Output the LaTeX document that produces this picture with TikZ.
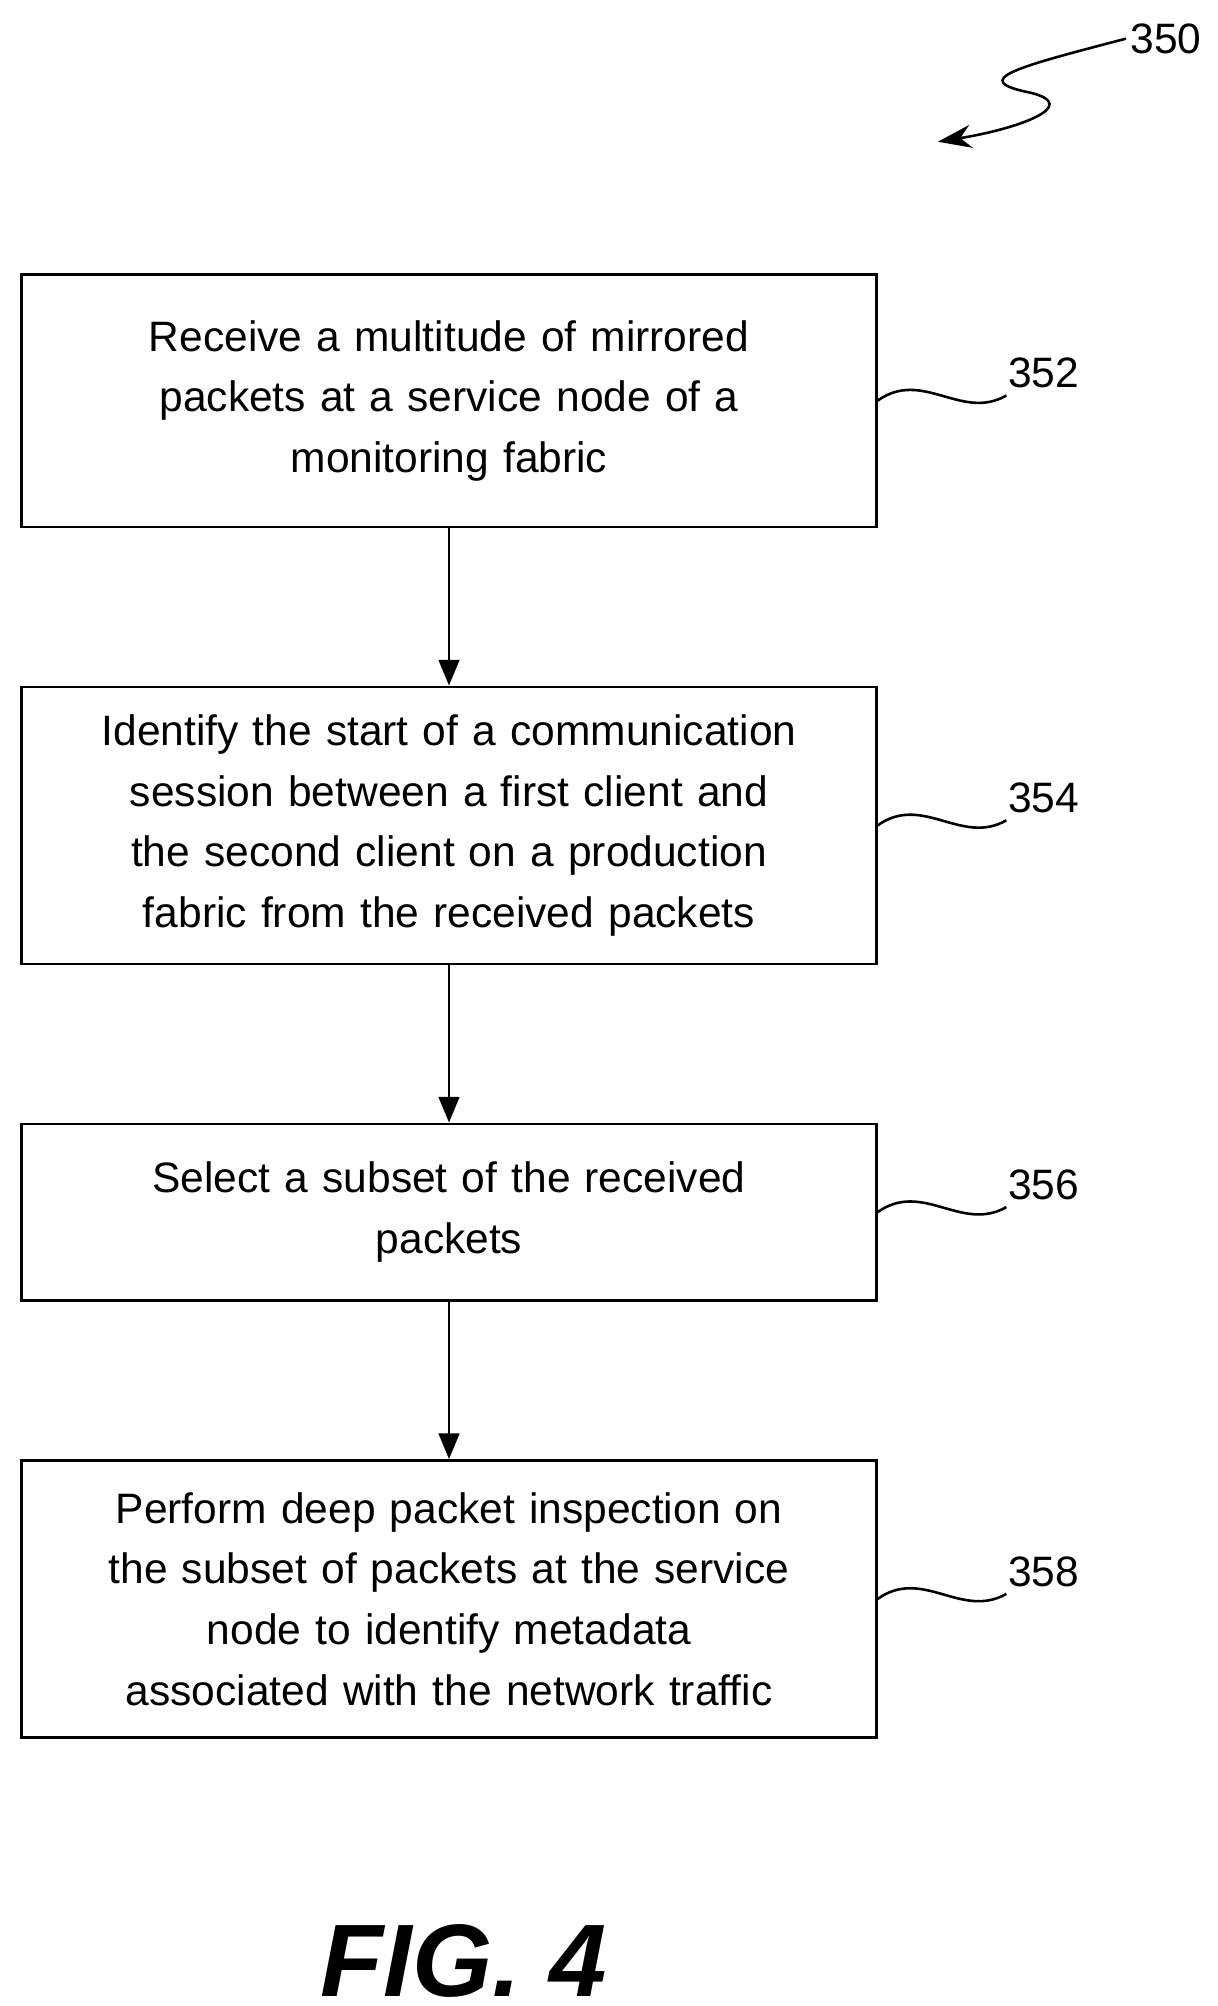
\documentclass[tikz,border=0pt]{standalone}
\usepackage{fontspec}
\setmainfont{Liberation Sans}
\usetikzlibrary{arrows.meta,positioning}
\tikzset{
    stepbox/.style={rectangle,draw,line width=2.2pt,minimum width=663pt,text width=640pt,align=center,
        font=\fontsize{33}{47}\selectfont,inner sep=0pt},
    flow/.style={-{Triangle[length=20pt,width=16pt]},line width=2.2pt},
    wave/.style={line width=2pt},
    refnum/.style={font=\fontsize{33}{40}\selectfont}
}
\begin{document}
\begin{tikzpicture}[x=1pt,y=-1pt]
    \useasboundingbox (0,0) rectangle (945,1557);

    \node[stepbox,minimum height=196pt] (receive) at (348.5,311)
        {Receive a multitude of mirrored\\packets at a service node of a\\monitoring fabric};
    \node[stepbox,minimum height=215pt] (identify) [below=122pt of receive]
        {Identify the start of a communication\\session between a first client and\\the second client on a production\\fabric from the received packets};
    \node[stepbox,minimum height=137pt] (select) [below=122pt of identify]
        {Select a subset of the received\\packets};
    \node[stepbox,minimum height=215pt] (inspect) [below=122pt of select]
        {Perform deep packet inspection on\\the subset of packets at the service\\node to identify metadata\\associated with the network traffic};

    \draw[flow] (receive) -- (identify);
    \draw[flow] (identify) -- (select);
    \draw[flow] (select) -- (inspect);

    % reference numerals
    \foreach \stepname/\num in {receive/352,identify/354,select/356,inspect/358}{
        \coordinate (\stepname wave) at ([xshift=100pt,yshift=4pt]\stepname.east);
        \draw[wave] (\stepname.east) .. controls +(35,-25) and +(-35,20) .. (\stepname wave);
        \node[refnum,anchor=south west] (\stepname num) at ([xshift=-2pt,yshift=2pt]\stepname wave) {\num};
    }

    \node[refnum] (fignum) at (905,30) {350};
    \coordinate (figtip) at (728,110);
    \draw[wave,-{Stealth[length=26pt,width=18pt]}] (fignum.west) .. controls (790,52) and (750,62) .. (800,72)
        .. controls (840,82) and (790,100) .. (figtip);

    \node[font=\fontsize{80}{80}\selectfont\bfseries\itshape] (fig) at (360,1522) {FIG. 4};
\end{tikzpicture}
\end{document}
